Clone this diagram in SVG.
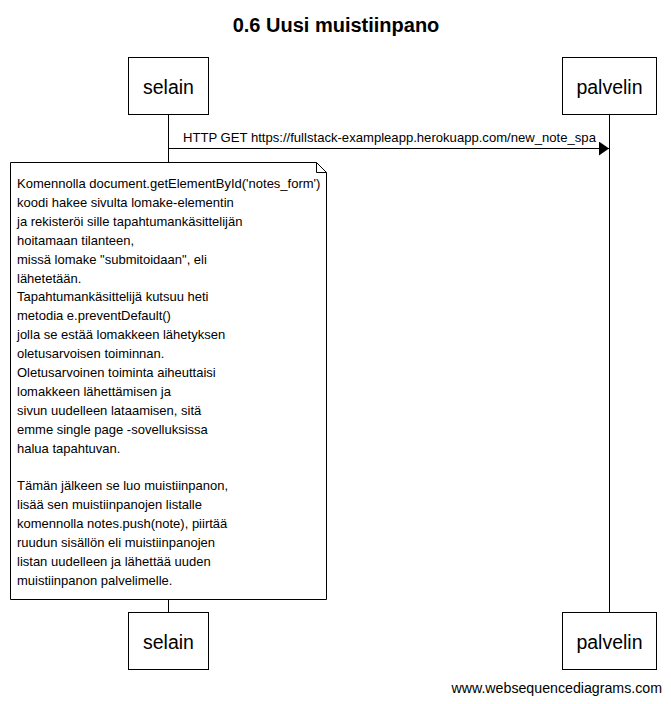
<svg xmlns="http://www.w3.org/2000/svg" width="671" height="704" viewBox="0 0 671 704">
<style>
text{font-family:"Liberation Sans",Arial,sans-serif;fill:#000}
.box{fill:#fff;stroke:#000;stroke-width:1}
.life{stroke:#000;stroke-width:1;fill:none}
.actor{font-size:19.5px;text-anchor:middle}
.note{font-size:13px}
.msg{font-size:13.1px}
</style>
<defs>
<marker id="ah" markerWidth="10" markerHeight="14" refX="10" refY="7" orient="auto" markerUnits="userSpaceOnUse">
<path d="M0,0 L10,7 L0,14 Z" fill="#000"/>
</marker>
</defs>
<rect width="671" height="704" fill="#fff"/>
<text x="336" y="32" font-size="20" font-weight="bold" text-anchor="middle">0.6 Uusi muistiinpano</text>
<g id="connectors">
<line class="life" x1="168.5" y1="114" x2="168.5" y2="612"/>
<line class="life" x1="609.5" y1="114" x2="609.5" y2="612"/>
<line class="life" x1="168.5" y1="148.5" x2="609" y2="148.5" marker-end="url(#ah)"/>
<text class="msg" x="183" y="142">HTTP GET https://fullstack-exampleapp.herokuapp.com/new_note_spa</text>
</g>
<g id="selain-top"><rect class="box" x="128.5" y="57.5" width="80" height="57"/><text class="actor" x="168.5" y="94">selain</text></g>
<g id="palvelin-top"><rect class="box" x="562.5" y="57.5" width="94" height="57"/><text class="actor" x="609.5" y="94">palvelin</text></g>
<g id="selain-bottom"><rect class="box" x="128.5" y="612.5" width="80" height="57"/><text class="actor" x="168.5" y="649">selain</text></g>
<g id="palvelin-bottom"><rect class="box" x="562.5" y="612.5" width="94" height="57"/><text class="actor" x="609.5" y="649">palvelin</text></g>
<g id="note">
<path class="box" d="M10.5,162.5 H316.5 L326.5,172.5 V599.5 H10.5 Z"/>
<path class="life" d="M316.5,162.5 V172.5 H326.5"/>
<text class="note" x="17" y="188">
<tspan x="17" dy="0">Komennolla document.getElementById('notes_form')</tspan>
<tspan x="17" dy="18.9">koodi hakee sivulta lomake-elementin</tspan>
<tspan x="17" dy="18.9">ja rekisteröi sille tapahtumankäsittelijän</tspan>
<tspan x="17" dy="18.9">hoitamaan tilanteen,</tspan>
<tspan x="17" dy="18.9">missä lomake "submitoidaan", eli</tspan>
<tspan x="17" dy="18.9">lähetetään.</tspan>
<tspan x="17" dy="18.9">Tapahtumankäsittelijä kutsuu heti</tspan>
<tspan x="17" dy="18.9">metodia e.preventDefault()</tspan>
<tspan x="17" dy="18.9">jolla se estää lomakkeen lähetyksen</tspan>
<tspan x="17" dy="18.9">oletusarvoisen toiminnan.</tspan>
<tspan x="17" dy="18.9">Oletusarvoinen toiminta aiheuttaisi</tspan>
<tspan x="17" dy="18.9">lomakkeen lähettämisen ja</tspan>
<tspan x="17" dy="18.9">sivun uudelleen lataamisen, sitä</tspan>
<tspan x="17" dy="18.9">emme single page -sovelluksissa</tspan>
<tspan x="17" dy="18.9">halua tapahtuvan.</tspan>
<tspan x="17" dy="37.8">Tämän jälkeen se luo muistiinpanon,</tspan>
<tspan x="17" dy="18.9">lisää sen muistiinpanojen listalle</tspan>
<tspan x="17" dy="18.9">komennolla notes.push(note), piirtää</tspan>
<tspan x="17" dy="18.9">ruudun sisällön eli muistiinpanojen</tspan>
<tspan x="17" dy="18.9">listan uudelleen ja lähettää uuden</tspan>
<tspan x="17" dy="18.9">muistiinpanon palvelimelle.</tspan>
</text>
</g>
<text x="662" y="693" font-size="14.2" text-anchor="end">www.websequencediagrams.com</text>
</svg>
